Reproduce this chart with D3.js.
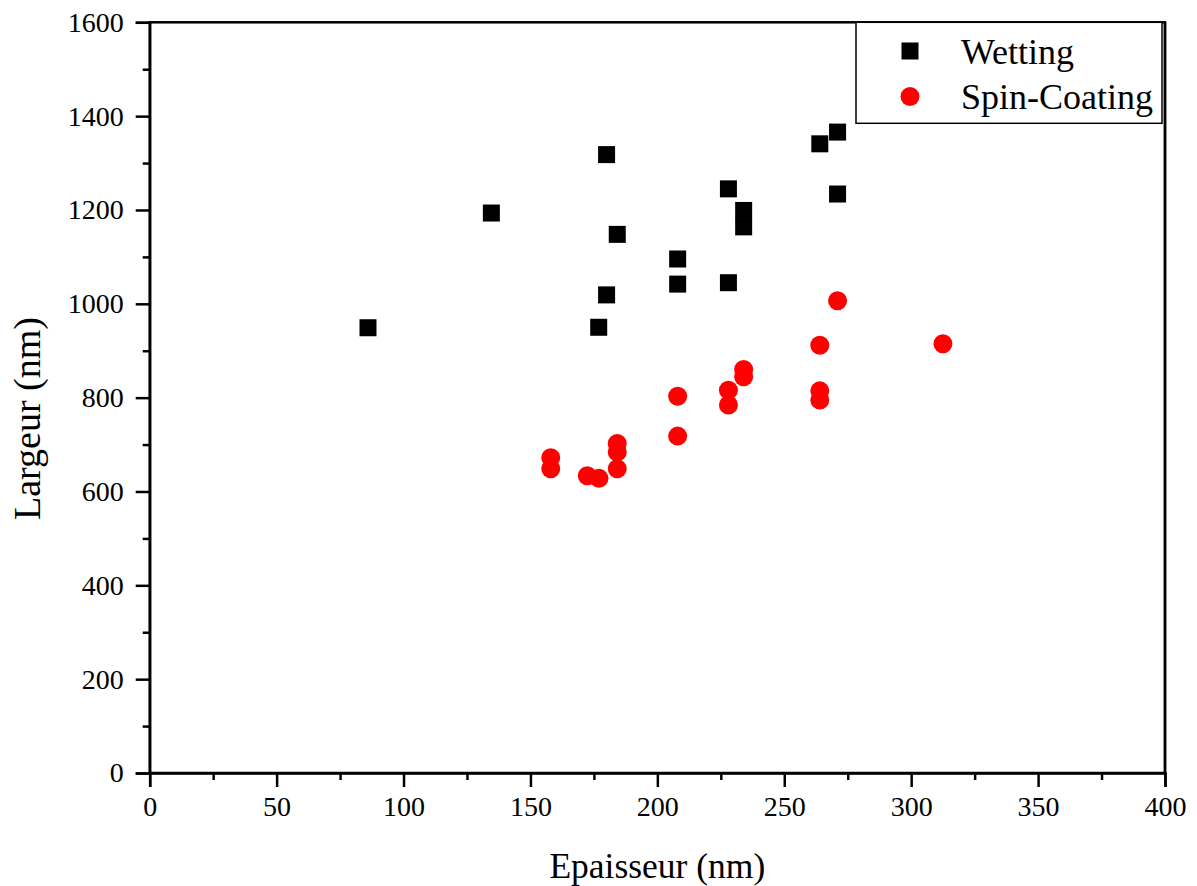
<!DOCTYPE html>
<html><head><meta charset="utf-8">
<script src="https://cdn.jsdelivr.net/npm/d3@7"></script>
<style>
html,body{margin:0;padding:0;background:#fff;}
svg text{font-family:"Liberation Serif","Times New Roman",serif !important;fill:#000;}
</style></head>
<body>
<script>
const wettingX = [86, 134.6, 180, 184.2, 180, 176.9, 208, 208, 228, 228, 234, 234, 264, 271, 271];
const wettingY = [949, 1193.5, 1318, 1148, 1019, 950, 1095.5, 1042, 1245, 1045, 1199, 1164, 1341, 1366, 1234];
const spinX = [271, 264, 234, 234, 228, 228, 264, 264, 208, 208, 184.2, 184.2, 184.2, 158, 158, 172.4, 177, 312.5];
const spinY = [1006.5, 911.5, 860, 844.5, 816, 784.5, 814.5, 795, 803, 718, 702.5, 684, 648.5, 672, 648.5, 633.5, 628, 915];
const xTicks = [0, 50, 100, 150, 200, 250, 300, 350, 400];
const yTicks = [0, 200, 400, 600, 800, 1000, 1200, 1400, 1600];
const seriesNames = ["Wetting", "Spin-Coating"];
const xTitle = "Epaisseur (nm)";
const yTitle = "Largeur (nm)";

const W = 1197, H = 886;
const L = 149.7, R = 1165, T = 22.3, B = 773;
const svg = d3.select("body").append("svg").attr("width", W).attr("height", H)
  .style("font-family", "'Liberation Serif', serif");
const x = d3.scaleLinear().domain([0, 400]).range([L, R]);
const y = d3.scaleLinear().domain([0, 1600]).range([B, T]);

// frame
svg.append("rect").attr("x", L).attr("y", T).attr("width", R - L).attr("height", B - T)
  .attr("fill", "none").attr("stroke", "#000").attr("stroke-width", 2.5);

// x axis
svg.append("g").attr("transform", `translate(0,${B})`)
  .call(d3.axisBottom(x).tickValues(xTicks).tickSize(14).tickPadding(9).tickFormat(d3.format("d")));
svg.append("g").attr("transform", `translate(0,${B})`)
  .call(d3.axisBottom(x).tickValues(d3.range(25, 400, 50)).tickSize(7).tickFormat(""))
  .call(g => g.select(".domain").remove());
// y axis
svg.append("g").attr("transform", `translate(${L},0)`)
  .call(d3.axisLeft(y).tickValues(yTicks).tickSize(14).tickPadding(12).tickFormat(d3.format("d")));
svg.append("g").attr("transform", `translate(${L},0)`)
  .call(d3.axisLeft(y).tickValues(d3.range(100, 1600, 200)).tickSize(7).tickFormat(""))
  .call(g => g.select(".domain").remove());
svg.selectAll("g").attr("font-family", null).attr("font-size", null);
svg.selectAll(".domain").attr("stroke-width", 2.5);
svg.selectAll(".tick line").attr("stroke-width", 2.5);
svg.selectAll(".tick text")
  .style("font-size", "28px")
  .style("font-family", "'Liberation Serif', serif");

// titles
svg.append("text").attr("x", (L + R) / 2).attr("y", 878).attr("text-anchor", "middle")
  .style("font-size", "35.5px").text(xTitle);
svg.append("text").attr("transform", `translate(40,520) rotate(-90)`)
  .attr("text-anchor", "start").style("font-size", "38px").text(yTitle);

// data
const sq = 17;
svg.append("g").selectAll("rect").data(wettingX.map((d, i) => [d, wettingY[i]])).join("rect")
  .attr("x", d => x(d[0]) - sq / 2).attr("y", d => y(d[1]) - sq / 2)
  .attr("width", sq).attr("height", sq).attr("fill", "#000");
svg.append("g").selectAll("circle").data(spinX.map((d, i) => [d, spinY[i]])).join("circle")
  .attr("cx", d => x(d[0])).attr("cy", d => y(d[1])).attr("r", 9.5).attr("fill", "#ff0000");

// legend
const lg = svg.append("g");
lg.append("rect").attr("x", 856).attr("y", T).attr("width", 306).attr("height", 101)
  .attr("fill", "#fff").attr("stroke", "#000").attr("stroke-width", 1.5);
lg.append("rect").attr("x", 910 - sq / 2).attr("y", 51 - sq / 2).attr("width", sq).attr("height", sq).attr("fill", "#000");
lg.append("circle").attr("cx", 910).attr("cy", 96.5).attr("r", 9.5).attr("fill", "#ff0000");
lg.append("text").attr("x", 961).attr("y", 64).style("font-size", "36px").text(seriesNames[0]);
lg.append("text").attr("x", 961).attr("y", 109).style("font-size", "36px").text(seriesNames[1]);
svg.append("line").attr("x1", R).attr("x2", R).attr("y1", T).attr("y2", B).attr("stroke", "#000").attr("stroke-width", 2.5);
</script>
</body></html>
